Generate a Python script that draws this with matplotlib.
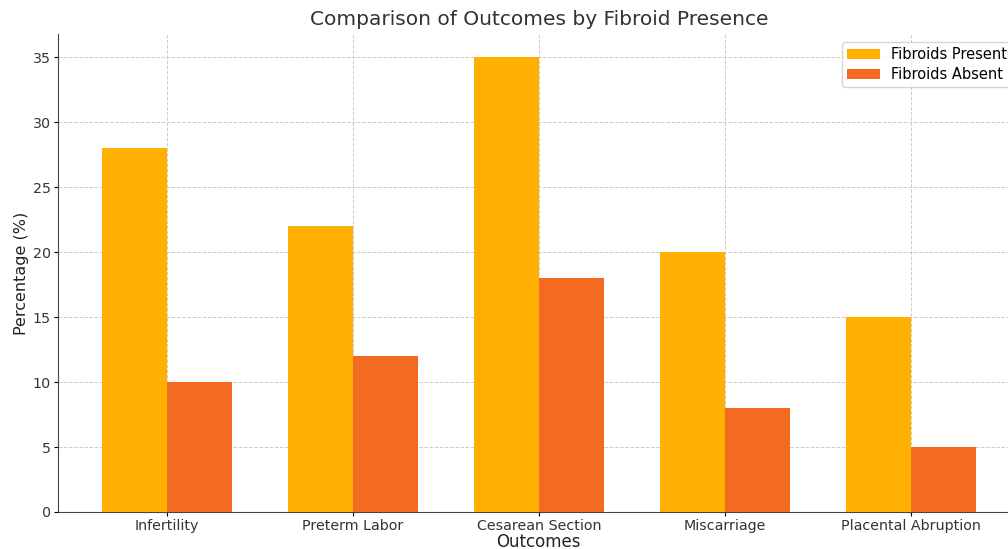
import matplotlib
matplotlib.use("Agg")
import matplotlib.pyplot as plt
import numpy as np

plt.rcParams["font.family"] = ["DejaVu Sans"]

outcomes = ["Infertility", "Preterm Labor", "Cesarean Section", "Miscarriage", "Placental Abruption"]
fibroids_present = [28, 22, 35, 20, 15]
fibroids_absent = [10, 12, 18, 8, 5]

x = np.arange(len(outcomes))
width = 0.35

fig = plt.figure(figsize=(10.08, 5.49), dpi=100)
ax = fig.add_axes([0.0575, 0.0674, 0.954, 0.870])

ax.bar(x - width / 2, fibroids_present, width, color="#FFB000", label="Fibroids Present", zorder=3)
ax.bar(x + width / 2, fibroids_absent, width, color="#F26B21", label="Fibroids Absent", zorder=3)

ax.set_xticks(x)
ax.set_xticklabels(outcomes, fontsize=10.3, color="#333333")
ax.tick_params(axis="both", length=3, pad=2, labelsize=10.3, labelcolor="#333333")
ax.set_xlabel("Outcomes", fontsize=12, color="#222222", labelpad=0)
ax.set_ylabel("Percentage (%)", fontsize=11.5, color="#222222", labelpad=3)
ax.set_title("Comparison of Outcomes by Fibroid Presence", fontsize=14.5, color="#333333", pad=7)
ax.grid(True, linestyle="--", color="#cccccc", linewidth=0.7, zorder=0)
ax.legend(loc="upper right", fontsize=10.5, borderaxespad=0.5, labelspacing=0.35,
          borderpad=0.35, handlelength=2.2)

for s in ["top", "right"]:
    ax.spines[s].set_visible(False)
for s in ["left", "bottom"]:
    ax.spines[s].set_color("#444444")

fig.savefig("out.png", dpi=100)
